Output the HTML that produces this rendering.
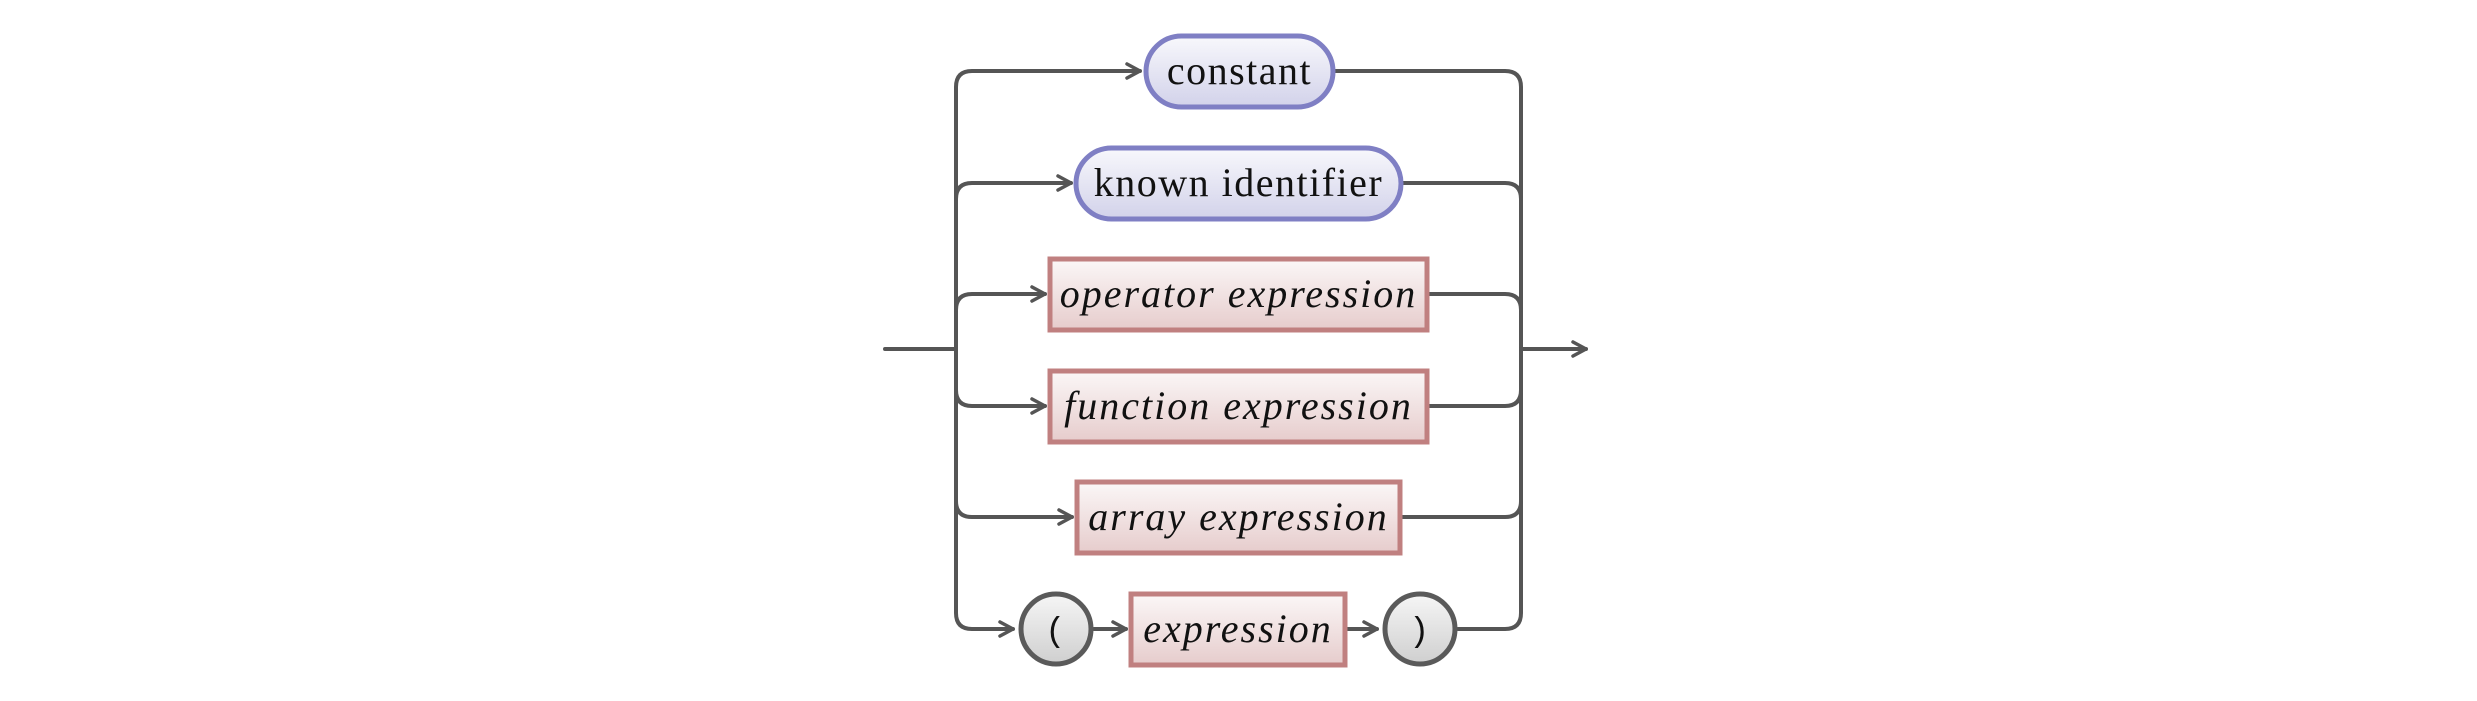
<!DOCTYPE html>
<html><head><meta charset="utf-8"><style>
html,body{margin:0;padding:0;background:#fff;}
svg{display:block;}
text{font-family:"Liberation Serif",serif;font-size:40px;fill:#111;letter-spacing:1.5px;}
.it{font-style:italic;letter-spacing:2px;}
</style></head><body>
<svg width="2477" height="701" viewBox="0 0 2477 701" xmlns="http://www.w3.org/2000/svg">
<defs>
<linearGradient id="gb" x1="0" y1="0" x2="0" y2="1"><stop offset="0" stop-color="#f8f8fc"/><stop offset="1" stop-color="#d2d2ea"/></linearGradient>
<linearGradient id="gr" x1="0" y1="0" x2="0" y2="1"><stop offset="0" stop-color="#fbf7f7"/><stop offset="1" stop-color="#e6cccc"/></linearGradient>
<linearGradient id="gg" x1="0" y1="0" x2="0" y2="1"><stop offset="0" stop-color="#f6f6f6"/><stop offset="1" stop-color="#cfcfcf"/></linearGradient>
<marker id="ar" viewBox="0 0 18 18" refX="15" refY="9" markerWidth="18" markerHeight="18" markerUnits="userSpaceOnUse" orient="auto">
<path d="M2,2 L15,9 L2,16" fill="none" stroke="#555" stroke-width="3.5" stroke-linejoin="round" stroke-linecap="round"/>
</marker>
</defs>
<g fill="none" stroke="#555" stroke-width="4" stroke-linecap="round">
<path d="M885,349 H956"/>
<path d="M956,349 V87 Q956,71 972,71 H1140" marker-end="url(#ar)"/>
<path d="M956,199 Q956,183 972,183 H1071" marker-end="url(#ar)"/>
<path d="M956,310 Q956,294 972,294 H1045" marker-end="url(#ar)"/>
<path d="M956,390 Q956,406 972,406 H1045" marker-end="url(#ar)"/>
<path d="M956,501 Q956,517 972,517 H1072" marker-end="url(#ar)"/>
<path d="M956,349 V613 Q956,629 972,629 H1013" marker-end="url(#ar)"/>
<path d="M1094,629 H1126" marker-end="url(#ar)"/>
<path d="M1345,629 H1377" marker-end="url(#ar)"/>
<path d="M1333,71 H1505 Q1521,71 1521,87 V613 Q1521,629 1505,629 H1458"/>
<path d="M1401,183 H1505 Q1521,183 1521,199"/>
<path d="M1427,294 H1505 Q1521,294 1521,310"/>
<path d="M1427,406 H1505 Q1521,406 1521,390"/>
<path d="M1400,517 H1505 Q1521,517 1521,501"/>
<path d="M1521,349 H1586" marker-end="url(#ar)"/>
</g>
<rect x="1146" y="36" width="187" height="71" rx="35.5" fill="url(#gb)" stroke="#7f7fc4" stroke-width="5"/>
<text x="1239.5" y="84" text-anchor="middle">constant</text>
<rect x="1076" y="148" width="325" height="71" rx="35.5" fill="url(#gb)" stroke="#7f7fc4" stroke-width="5"/>
<text x="1238.5" y="196" text-anchor="middle">known identifier</text>
<rect x="1050" y="259" width="377" height="71" fill="url(#gr)" stroke="#c08080" stroke-width="5"/>
<text class="it" x="1238.5" y="307" text-anchor="middle">operator expression</text>
<rect x="1050" y="371" width="377" height="71" fill="url(#gr)" stroke="#c08080" stroke-width="5"/>
<text class="it" x="1238.5" y="419" text-anchor="middle">function expression</text>
<rect x="1077" y="482" width="323" height="71" fill="url(#gr)" stroke="#c08080" stroke-width="5"/>
<text class="it" x="1238.5" y="530" text-anchor="middle">array expression</text>
<rect x="1131" y="594" width="214" height="71" fill="url(#gr)" stroke="#c08080" stroke-width="5"/>
<text class="it" x="1238" y="642" text-anchor="middle">expression</text>
<circle cx="1056" cy="629" r="35" fill="url(#gg)" stroke="#5a5a5a" stroke-width="5"/>
<text x="1056" y="641" text-anchor="middle" style="font-family:'Liberation Mono',monospace;font-size:34px">(</text>
<circle cx="1420" cy="629" r="35" fill="url(#gg)" stroke="#5a5a5a" stroke-width="5"/>
<text x="1420" y="641" text-anchor="middle" style="font-family:'Liberation Mono',monospace;font-size:34px">)</text>
</svg>
</body></html>
